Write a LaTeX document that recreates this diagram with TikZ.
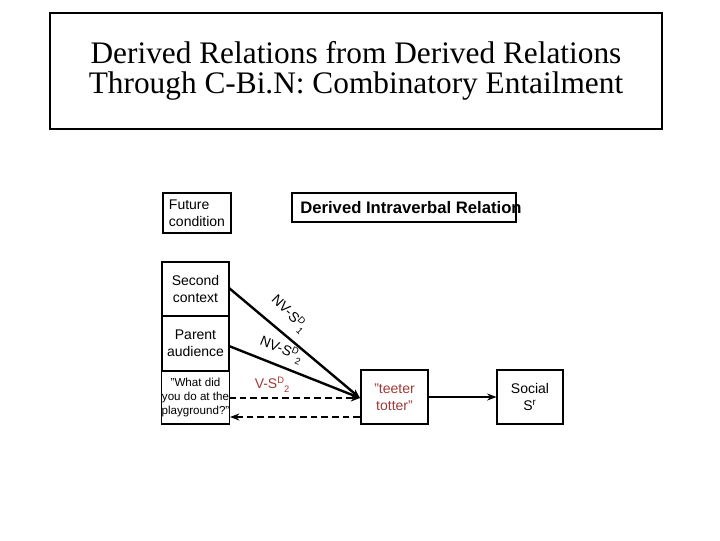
\documentclass[tikz,border=0pt]{standalone}
\usepackage{fontspec}
\setmainfont{Liberation Sans}
\newfontfamily\serifx{Liberation Serif}
\usetikzlibrary{arrows.meta}
\definecolor{dred}{HTML}{A03838}
\newcommand{\sdx}[1]{S\raisebox{0.6ex}{\scriptsize D}\raisebox{-0.6ex}{\scriptsize #1}}
\begin{document}
\begin{tikzpicture}[x=0.75pt,y=-0.75pt,
 box/.style={draw,thick,inner sep=0,align=center,font=\fontsize{10.5}{12.5}\selectfont},
 arr/.style={line width=1.8pt,-{Stealth[length=7pt]}},
 lab/.style={font=\fontsize{10.5}{12}\selectfont,inner sep=0}]
\useasboundingbox (0,0) rectangle (720,540);
\node[draw,thick,minimum width=612*0.75pt,minimum height=116*0.75pt,align=center,font=\serifx\fontsize{23.5}{22.5}\selectfont] (t) at (356,71) {Derived Relations from Derived Relations\\Through C-Bi.N: Combinatory Entailment};
\node[box,minimum width=68*0.75pt,minimum height=40*0.75pt,align=left] (fc) at (197,213) {Future\\condition};
\node[box,minimum width=224*0.75pt,minimum height=29*0.75pt] (dir) at (404,207.5) {};
\node[font=\bfseries\fontsize{12.5}{14}\selectfont] (dirt) at (411,208) {Derived Intraverbal Relation};
\node[box,minimum width=67*0.75pt,minimum height=54*0.75pt] (sc) at (195.5,289) {Second\\context};
\node[box,minimum width=67*0.75pt,minimum height=55*0.75pt] (pa) at (195.5,343.5) {Parent\\audience};
\node[box,minimum width=67*0.75pt,minimum height=53*0.75pt,font=\fontsize{8.7}{10.5}\selectfont] (wd) at (195.5,397.5) {"What did\\you do at the\\playground?"};
\node[box,minimum width=67*0.75pt,minimum height=54*0.75pt,text=dred] (tt) at (394.5,397) {"teeter\\totter"};
\node[box,minimum width=66*0.75pt,minimum height=54*0.75pt] (so) at (530,397) {Social\\S\textsuperscript{r}};
\coordinate (in) at (360,398);
\draw[arr] (229,288) -- (in);
\draw[arr] (229,346) -- (in);
\draw[line width=1.3pt,dash pattern=on 5pt off 3pt,-{Stealth[length=7pt]}] (229,398) -- (in);
\draw[line width=2pt,dash pattern=on 5pt off 3pt,-{Stealth[length=7pt]}] (360,417) -- (230,417);
\draw[arr] (tt.east) -- (so.west);
\node[lab,rotate=-45] at (289,314) {NV-\sdx{1}};
\node[lab,rotate=-22] at (281,350) {NV-\sdx{2}};
\node[lab,text=dred] at (272,385) {V-\sdx{2}};
\end{tikzpicture}
\end{document}
